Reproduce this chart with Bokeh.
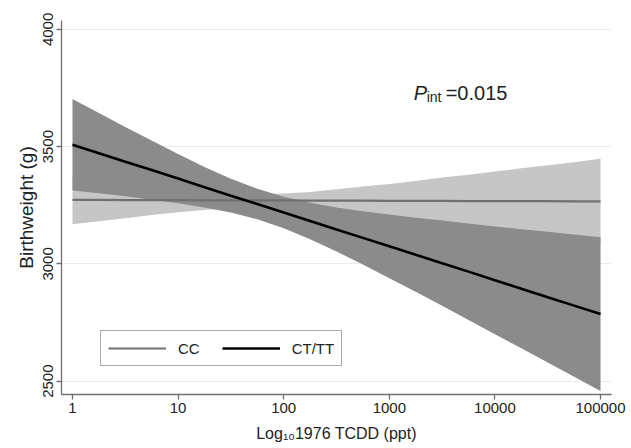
from bokeh.plotting import figure
from bokeh.models import Legend, LegendItem, Label, FixedTicker, NumeralTickFormatter, Range1d
from bokeh.embed import file_html
from bokeh.resources import INLINE

# ---- data (quarter-decade readings) ----
dose = [1, 1.78, 3.16, 5.62, 10, 17.8, 31.6, 56.2, 100, 178, 316, 562,
        1000, 1778, 3162, 5623, 10000, 17783, 31623, 56234, 100000]

cc_fit = [3273, 3273, 3272, 3272, 3272, 3271, 3271, 3271, 3271, 3270, 3270,
          3270, 3269, 3269, 3269, 3268, 3268, 3268, 3268, 3267, 3267]
cc_lo = [3169, 3182, 3195, 3208, 3220, 3230, 3239, 3244, 3242, 3233, 3222,
         3210, 3197, 3184, 3170, 3156, 3142, 3128, 3115, 3100, 3086]
cc_hi = [3377, 3364, 3349, 3336, 3324, 3312, 3303, 3298, 3300, 3307, 3318,
         3330, 3341, 3354, 3368, 3380, 3394, 3408, 3421, 3434, 3448]

ct_fit = [3508, 3472, 3436, 3400, 3364, 3327, 3291, 3255, 3219, 3183, 3147,
          3111, 3075, 3039, 3003, 2967, 2930, 2894, 2858, 2822, 2786]
ct_lo = [3313, 3301, 3288, 3274, 3259, 3241, 3219, 3190, 3152, 3105, 3053,
         2997, 2939, 2881, 2821, 2761, 2700, 2640, 2579, 2519, 2458]
ct_hi = [3703, 3643, 3584, 3526, 3469, 3413, 3363, 3320, 3286, 3261, 3241,
         3225, 3211, 3197, 3185, 3172, 3160, 3148, 3137, 3125, 3114]

x_ticks = [1, 10, 100, 1000, 10000, 100000]
y_ticks = [2500, 3000, 3500, 4000]
series_names = ["CC", "CT/TT"]
p_int_text = "=0.015"

FONT = "Liberation Sans"

p = figure(width=631, height=448, x_axis_type="log",
           x_range=Range1d(0.787, 127000), y_range=Range1d(2443, 4038),
           output_backend="svg", toolbar_location=None,
           min_border_left=61, min_border_right=20, min_border_top=20, min_border_bottom=54)
p.outline_line_color = None
p.background_fill_color = "white"

# confidence bands
p.varea(x=dose, y1=cc_lo, y2=cc_hi, fill_color="#c6c6c6", fill_alpha=1)
p.varea(x=dose, y1=ct_lo, y2=ct_hi, fill_color="#8b8b8b", fill_alpha=1)
# fitted lines
cc_line = p.line(x=dose, y=cc_fit, line_color="#707070", line_width=2.2)
ct_line = p.line(x=dose, y=ct_fit, line_color="black", line_width=2.6)

legend = Legend(items=[LegendItem(label=series_names[0], renderers=[cc_line]),
                       LegendItem(label=series_names[1], renderers=[ct_line])],
                orientation="horizontal", location=(39, 28))
legend.glyph_width = 58
legend.glyph_height = 20
legend.label_height = 20
legend.label_standoff = 12
legend.spacing = 22
legend.padding = 7
legend.margin = 0
legend.border_line_color = "#555555"
legend.border_line_width = 1
legend.background_fill_alpha = 1
legend.label_text_font = FONT
legend.label_text_font_size = "15px"
legend.label_text_color = "#222222"
p.add_layout(legend)

# axes
p.xaxis.ticker = FixedTicker(ticks=x_ticks)
p.xaxis.formatter = NumeralTickFormatter(format="0")
p.yaxis.ticker = FixedTicker(ticks=y_ticks)
p.yaxis.major_label_orientation = "vertical"
for ax in (p.xaxis, p.yaxis):
    ax.axis_line_color = "#707070"
    ax.axis_line_width = 1.3
    ax.major_tick_line_color = "#707070"
    ax.major_tick_line_width = 1.3
    ax.major_tick_out = 5
    ax.major_tick_in = 0
    ax.minor_tick_line_color = None
    ax.major_label_text_font = FONT
    ax.major_label_text_font_size = "15px"
    ax.major_label_text_color = "#222222"
    ax.major_label_standoff = 3
    ax.axis_label_text_font = FONT
    ax.axis_label_text_font_style = "normal"
    ax.axis_label_text_color = "#222222"
p.xaxis.axis_label = "Log\u2081\u20801976 TCDD (ppt)"
p.xaxis.axis_label_text_font_size = "16px"
p.xaxis.axis_label_standoff = 9
p.yaxis.axis_label = "Birthweight (g)"
p.yaxis.axis_label_text_font_size = "19px"
p.yaxis.axis_label_standoff = 4

p.xgrid.grid_line_color = None
p.ygrid.grid_line_color = "#ececec"
p.ygrid.grid_line_width = 1

# P_int annotation
pint_x = 1700
pint_y = 3728
p.add_layout(Label(x=pint_x, y=pint_y, text="P", text_font=FONT, text_font_style="italic",
                   text_font_size="20px", text_color="#222222", text_baseline="alphabetic"))
p.add_layout(Label(x=pint_x, y=pint_y, x_offset=13, y_offset=-4, text="int", text_font=FONT,
                   text_font_size="14px", text_color="#222222", text_baseline="alphabetic"))
p.add_layout(Label(x=pint_x, y=pint_y, x_offset=32, text=p_int_text, text_font=FONT,
                   text_font_size="20px", text_color="#222222", text_baseline="alphabetic"))

open("out.html", "w").write(file_html(p, INLINE))
